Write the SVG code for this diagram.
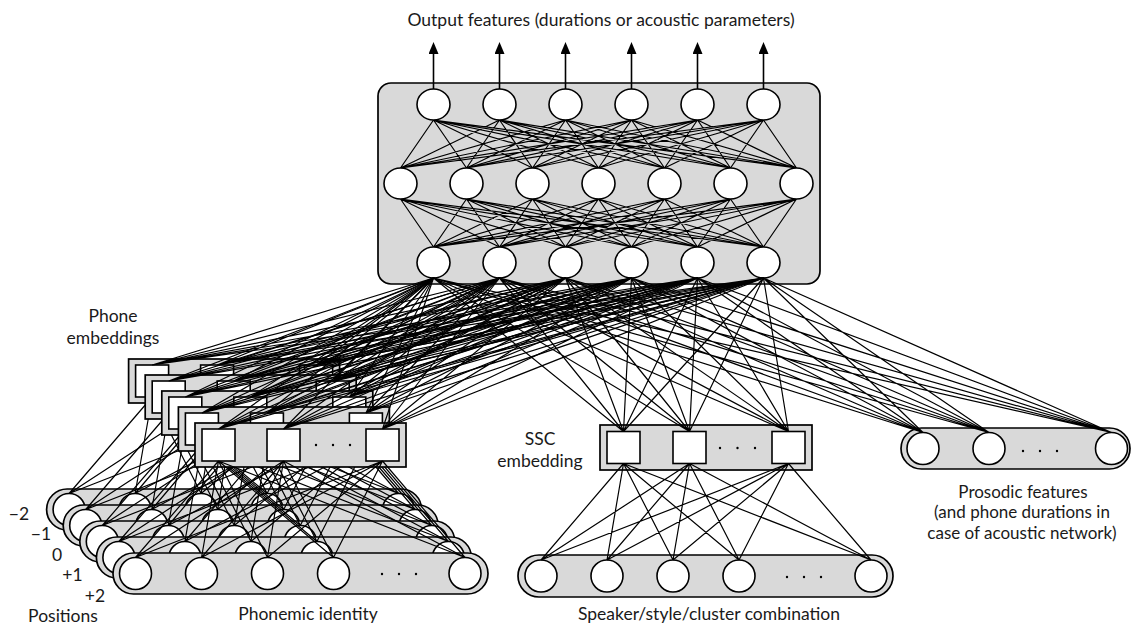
<svg xmlns="http://www.w3.org/2000/svg" xmlns:xlink="http://www.w3.org/1999/xlink" width="1133" height="625" viewBox="0 0 1133 625">
<style>
  .panel{fill:#d9d9d9;stroke:#000;stroke-width:1.7}
  .unit{fill:#fff;stroke:#000;stroke-width:1.6}
  .edge{fill:none;stroke:#000;stroke-width:1.2}
  .out{fill:none;stroke:#000;stroke-width:1.6;marker-end:url(#arrow)}
  .dot{fill:#000}
  text{font-family:Lato,"Liberation Sans",sans-serif;font-size:17.5px;fill:#1a1a1a;text-anchor:middle}
  .note{font-size:17px}
</style>
<defs>
  <marker id="arrow" markerUnits="userSpaceOnUse" markerWidth="12" markerHeight="10" refX="3" refY="5" orient="auto">
    <path d="M0,0L12,5L0,10z" fill="#000"/>
  </marker>
  <!-- fully connected bundle between a 6-unit row (y=120) and a 7-unit row (y=168) -->
  <path id="dense-6-7" class="edge" d="M433.5 120l-33 48M433.5 120l33 48M433.5 120l99 48M433.5 120l165 48M433.5 120l231 48M433.5 120l297 48M433.5 120l363 48
    M499.5 120l-99 48M499.5 120l-33 48M499.5 120l33 48M499.5 120l99 48M499.5 120l165 48M499.5 120l231 48M499.5 120l297 48
    M565.5 120l-165 48M565.5 120l-99 48M565.5 120l-33 48M565.5 120l33 48M565.5 120l99 48M565.5 120l165 48M565.5 120l231 48
    M631.5 120l-231 48M631.5 120l-165 48M631.5 120l-99 48M631.5 120l-33 48M631.5 120l33 48M631.5 120l99 48M631.5 120l165 48
    M697.5 120l-297 48M697.5 120l-231 48M697.5 120l-165 48M697.5 120l-99 48M697.5 120l-33 48M697.5 120l33 48M697.5 120l99 48
    M763.5 120l-363 48M763.5 120l-297 48M763.5 120l-231 48M763.5 120l-165 48M763.5 120l-99 48M763.5 120l-33 48M763.5 120l33 48"/>
  <!-- phone embedding block, drawn at the +2 position -->
  <g id="phone-emb">
    <rect class="panel" x="195" y="423" width="211" height="44"/>
    <rect class="unit" x="202" y="429" width="33" height="32"/>
    <rect class="unit" x="267" y="429" width="33" height="32"/>
    <rect class="unit" x="366" y="429" width="33" height="32"/>
    <circle class="dot" cx="316" cy="445" r="1.2"/>
    <circle class="dot" cx="333" cy="445" r="1.2"/>
    <circle class="dot" cx="350" cy="445" r="1.2"/>
  </g>
  <!-- one-hot phoneme input row, drawn at the +2 position -->
  <g id="phone-row">
    <rect class="panel" x="113" y="553" width="375" height="41" rx="20.5"/>
    <circle class="unit" cx="135.5" cy="573.5" r="16"/>
    <circle class="unit" cx="201.5" cy="573.5" r="16"/>
    <circle class="unit" cx="267.5" cy="573.5" r="16"/>
    <circle class="unit" cx="333.5" cy="573.5" r="16"/>
    <circle class="unit" cx="465" cy="573.5" r="16"/>
    <circle class="dot" cx="382" cy="574" r="1.2"/>
    <circle class="dot" cx="399" cy="574" r="1.2"/>
    <circle class="dot" cx="416" cy="574" r="1.2"/>
  </g>
  <path id="phone-down" class="edge" d="M218.5 461L135.5 557.5M218.5 461L201.5 557.5M218.5 461L267.5 557.5M218.5 461L333.5 557.5M218.5 461L465 557.5
    M283.5 461L135.5 557.5M283.5 461L201.5 557.5M283.5 461L267.5 557.5M283.5 461L333.5 557.5M283.5 461L465 557.5
    M382.5 461L135.5 557.5M382.5 461L201.5 557.5M382.5 461L267.5 557.5M382.5 461L333.5 557.5M382.5 461L465 557.5"/>
</defs>

<!-- shared hidden network -->
<g id="hidden-network">
  <rect class="panel" x="378" y="83" width="442" height="201" rx="13"/>
  <g id="connectors-hidden">
    <use xlink:href="#dense-6-7"/>
    <use xlink:href="#dense-6-7" transform="matrix(1 0 0 -1 0 367)"/>
  </g>
  <g id="output-layer">
    <ellipse class="unit" cx="433.5" cy="104.5" rx="16.5" ry="15.5"/>
    <ellipse class="unit" cx="499.5" cy="104.5" rx="16.5" ry="15.5"/>
    <ellipse class="unit" cx="565.5" cy="104.5" rx="16.5" ry="15.5"/>
    <ellipse class="unit" cx="631.5" cy="104.5" rx="16.5" ry="15.5"/>
    <ellipse class="unit" cx="697.5" cy="104.5" rx="16.5" ry="15.5"/>
    <ellipse class="unit" cx="763.5" cy="104.5" rx="16.5" ry="15.5"/>
  </g>
  <g id="hidden-layer-2">
    <ellipse class="unit" cx="400.5" cy="183.5" rx="16.5" ry="15.5"/>
    <ellipse class="unit" cx="466.5" cy="183.5" rx="16.5" ry="15.5"/>
    <ellipse class="unit" cx="532.5" cy="183.5" rx="16.5" ry="15.5"/>
    <ellipse class="unit" cx="598.5" cy="183.5" rx="16.5" ry="15.5"/>
    <ellipse class="unit" cx="664.5" cy="183.5" rx="16.5" ry="15.5"/>
    <ellipse class="unit" cx="730.5" cy="183.5" rx="16.5" ry="15.5"/>
    <ellipse class="unit" cx="796.5" cy="183.5" rx="16.5" ry="15.5"/>
  </g>
  <g id="hidden-layer-1">
    <ellipse class="unit" cx="433.5" cy="262.5" rx="16.5" ry="15.5"/>
    <ellipse class="unit" cx="499.5" cy="262.5" rx="16.5" ry="15.5"/>
    <ellipse class="unit" cx="565.5" cy="262.5" rx="16.5" ry="15.5"/>
    <ellipse class="unit" cx="631.5" cy="262.5" rx="16.5" ry="15.5"/>
    <ellipse class="unit" cx="697.5" cy="262.5" rx="16.5" ry="15.5"/>
    <ellipse class="unit" cx="763.5" cy="262.5" rx="16.5" ry="15.5"/>
  </g>
  <g id="connectors-output">
    <path class="out" d="M433.5 89V51"/>
    <path class="out" d="M499.5 89V51"/>
    <path class="out" d="M565.5 89V51"/>
    <path class="out" d="M631.5 89V51"/>
    <path class="out" d="M697.5 89V51"/>
    <path class="out" d="M763.5 89V51"/>
  </g>
</g>
<text x="601" y="26">Output features (durations or acoustic parameters)</text>

<!-- context positions, back (-2) to front (+2) -->
<g id="position-minus2" transform="translate(-66.4 -64)">
  <g id="phone-embedding-minus2"><use xlink:href="#phone-emb"/></g>
  <g id="phoneme-input-minus2"><use xlink:href="#phone-row"/></g>
  <g id="connectors-in-minus2"><use xlink:href="#phone-down"/></g>
</g>
<g id="connectors-up-minus2">
  <path class="edge" d="M152.1 365L433.5 278M152.1 365L499.5 278M152.1 365L565.5 278M152.1 365L631.5 278M152.1 365L697.5 278M152.1 365L763.5 278
    M217.1 365L433.5 278M217.1 365L499.5 278M217.1 365L565.5 278M217.1 365L631.5 278M217.1 365L697.5 278M217.1 365L763.5 278
    M316.1 365L433.5 278M316.1 365L499.5 278M316.1 365L565.5 278M316.1 365L631.5 278M316.1 365L697.5 278M316.1 365L763.5 278"/>
</g>

<g id="position-minus1" transform="translate(-49.8 -48)">
  <g id="phone-embedding-minus1"><use xlink:href="#phone-emb"/></g>
  <g id="phoneme-input-minus1"><use xlink:href="#phone-row"/></g>
  <g id="connectors-in-minus1"><use xlink:href="#phone-down"/></g>
</g>
<g id="connectors-up-minus1">
  <path class="edge" d="M168.7 381L433.5 278M168.7 381L499.5 278M168.7 381L565.5 278M168.7 381L631.5 278M168.7 381L697.5 278M168.7 381L763.5 278
    M233.7 381L433.5 278M233.7 381L499.5 278M233.7 381L565.5 278M233.7 381L631.5 278M233.7 381L697.5 278M233.7 381L763.5 278
    M332.7 381L433.5 278M332.7 381L499.5 278M332.7 381L565.5 278M332.7 381L631.5 278M332.7 381L697.5 278M332.7 381L763.5 278"/>
</g>

<g id="position-0" transform="translate(-33.2 -32)">
  <g id="phone-embedding-0"><use xlink:href="#phone-emb"/></g>
  <g id="phoneme-input-0"><use xlink:href="#phone-row"/></g>
  <g id="connectors-in-0"><use xlink:href="#phone-down"/></g>
</g>
<g id="connectors-up-0">
  <path class="edge" d="M185.3 397L433.5 278M185.3 397L499.5 278M185.3 397L565.5 278M185.3 397L631.5 278M185.3 397L697.5 278M185.3 397L763.5 278
    M250.3 397L433.5 278M250.3 397L499.5 278M250.3 397L565.5 278M250.3 397L631.5 278M250.3 397L697.5 278M250.3 397L763.5 278
    M349.3 397L433.5 278M349.3 397L499.5 278M349.3 397L565.5 278M349.3 397L631.5 278M349.3 397L697.5 278M349.3 397L763.5 278"/>
</g>

<g id="position-plus1" transform="translate(-16.6 -16)">
  <g id="phone-embedding-plus1"><use xlink:href="#phone-emb"/></g>
  <g id="phoneme-input-plus1"><use xlink:href="#phone-row"/></g>
  <g id="connectors-in-plus1"><use xlink:href="#phone-down"/></g>
</g>
<g id="connectors-up-plus1">
  <path class="edge" d="M201.9 413L433.5 278M201.9 413L499.5 278M201.9 413L565.5 278M201.9 413L631.5 278M201.9 413L697.5 278M201.9 413L763.5 278
    M266.9 413L433.5 278M266.9 413L499.5 278M266.9 413L565.5 278M266.9 413L631.5 278M266.9 413L697.5 278M266.9 413L763.5 278
    M365.9 413L433.5 278M365.9 413L499.5 278M365.9 413L565.5 278M365.9 413L631.5 278M365.9 413L697.5 278M365.9 413L763.5 278"/>
</g>

<g id="position-plus2">
  <g id="phone-embedding-plus2"><use xlink:href="#phone-emb"/></g>
  <g id="phoneme-input-plus2"><use xlink:href="#phone-row"/></g>
  <g id="connectors-in-plus2"><use xlink:href="#phone-down"/></g>
</g>
<g id="connectors-up-plus2">
  <path class="edge" d="M218.5 429L433.5 278M218.5 429L499.5 278M218.5 429L565.5 278M218.5 429L631.5 278M218.5 429L697.5 278M218.5 429L763.5 278
    M283.5 429L433.5 278M283.5 429L499.5 278M283.5 429L565.5 278M283.5 429L631.5 278M283.5 429L697.5 278M283.5 429L763.5 278
    M382.5 429L433.5 278M382.5 429L499.5 278M382.5 429L565.5 278M382.5 429L631.5 278M382.5 429L697.5 278M382.5 429L763.5 278"/>
</g>

<!-- speaker / style / cluster branch -->
<g id="ssc-embedding">
  <rect class="panel" x="600" y="425" width="212" height="45"/>
  <rect class="unit" x="607" y="431.5" width="33" height="32"/>
  <rect class="unit" x="673" y="431.5" width="33" height="32"/>
  <rect class="unit" x="772" y="431.5" width="33" height="32"/>
  <circle class="dot" cx="720" cy="448" r="1.2"/>
  <circle class="dot" cx="737.5" cy="448" r="1.2"/>
  <circle class="dot" cx="755" cy="448" r="1.2"/>
</g>
<g id="ssc-input">
  <rect class="panel" x="518" y="555" width="375" height="42" rx="21"/>
  <circle class="unit" cx="541" cy="576" r="16"/>
  <circle class="unit" cx="607" cy="576" r="16"/>
  <circle class="unit" cx="673" cy="576" r="16"/>
  <circle class="unit" cx="739" cy="576" r="16"/>
  <circle class="unit" cx="871" cy="576" r="16"/>
  <circle class="dot" cx="787" cy="577" r="1.2"/>
  <circle class="dot" cx="804" cy="577" r="1.2"/>
  <circle class="dot" cx="821" cy="577" r="1.2"/>
</g>
<g id="connectors-ssc">
  <path class="edge" d="M623.5 463.5L541 560M623.5 463.5L607 560M623.5 463.5L673 560M623.5 463.5L739 560M623.5 463.5L871 560
    M689.5 463.5L541 560M689.5 463.5L607 560M689.5 463.5L673 560M689.5 463.5L739 560M689.5 463.5L871 560
    M788.5 463.5L541 560M788.5 463.5L607 560M788.5 463.5L673 560M788.5 463.5L739 560M788.5 463.5L871 560
    M623.5 431.5L433.5 278M623.5 431.5L499.5 278M623.5 431.5L565.5 278M623.5 431.5L631.5 278M623.5 431.5L697.5 278M623.5 431.5L763.5 278
    M689.5 431.5L433.5 278M689.5 431.5L499.5 278M689.5 431.5L565.5 278M689.5 431.5L631.5 278M689.5 431.5L697.5 278M689.5 431.5L763.5 278
    M788.5 431.5L433.5 278M788.5 431.5L499.5 278M788.5 431.5L565.5 278M788.5 431.5L631.5 278M788.5 431.5L697.5 278M788.5 431.5L763.5 278"/>
</g>

<!-- prosodic input branch -->
<g id="prosodic-input">
  <rect class="panel" x="901" y="428" width="229" height="41" rx="20.5"/>
  <circle class="unit" cx="923" cy="448.5" r="16"/>
  <circle class="unit" cx="989" cy="448.5" r="16"/>
  <circle class="unit" cx="1111.5" cy="448.5" r="16"/>
  <circle class="dot" cx="1023" cy="451" r="1.2"/>
  <circle class="dot" cx="1040" cy="451" r="1.2"/>
  <circle class="dot" cx="1057" cy="451" r="1.2"/>
</g>
<g id="connectors-prosodic">
  <path class="edge" d="M923 432.5L433.5 278M923 432.5L499.5 278M923 432.5L565.5 278M923 432.5L631.5 278M923 432.5L697.5 278M923 432.5L763.5 278
    M989 432.5L433.5 278M989 432.5L499.5 278M989 432.5L565.5 278M989 432.5L631.5 278M989 432.5L697.5 278M989 432.5L763.5 278
    M1111.5 432.5L433.5 278M1111.5 432.5L499.5 278M1111.5 432.5L565.5 278M1111.5 432.5L631.5 278M1111.5 432.5L697.5 278M1111.5 432.5L763.5 278"/>
</g>

<!-- labels -->
<g id="labels">
  <text x="113" y="322">Phone</text>
  <text x="113" y="344">embeddings</text>
  <text x="540" y="445">SSC</text>
  <text x="540" y="467">embedding</text>
  <text class="note" x="1023" y="497.5">Prosodic features</text>
  <text class="note" x="1022" y="518">(and phone durations in</text>
  <text class="note" x="1022" y="538.5">case of acoustic network)</text>
  <text x="308" y="620">Phonemic identity</text>
  <text x="709" y="620">Speaker/style/cluster combination</text>
  <text x="19" y="520">−2</text>
  <text x="41" y="540">−1</text>
  <text x="57" y="561">0</text>
  <text x="72.5" y="581">+1</text>
  <text x="95" y="602">+2</text>
  <text x="63" y="622">Positions</text>
</g>
</svg>
